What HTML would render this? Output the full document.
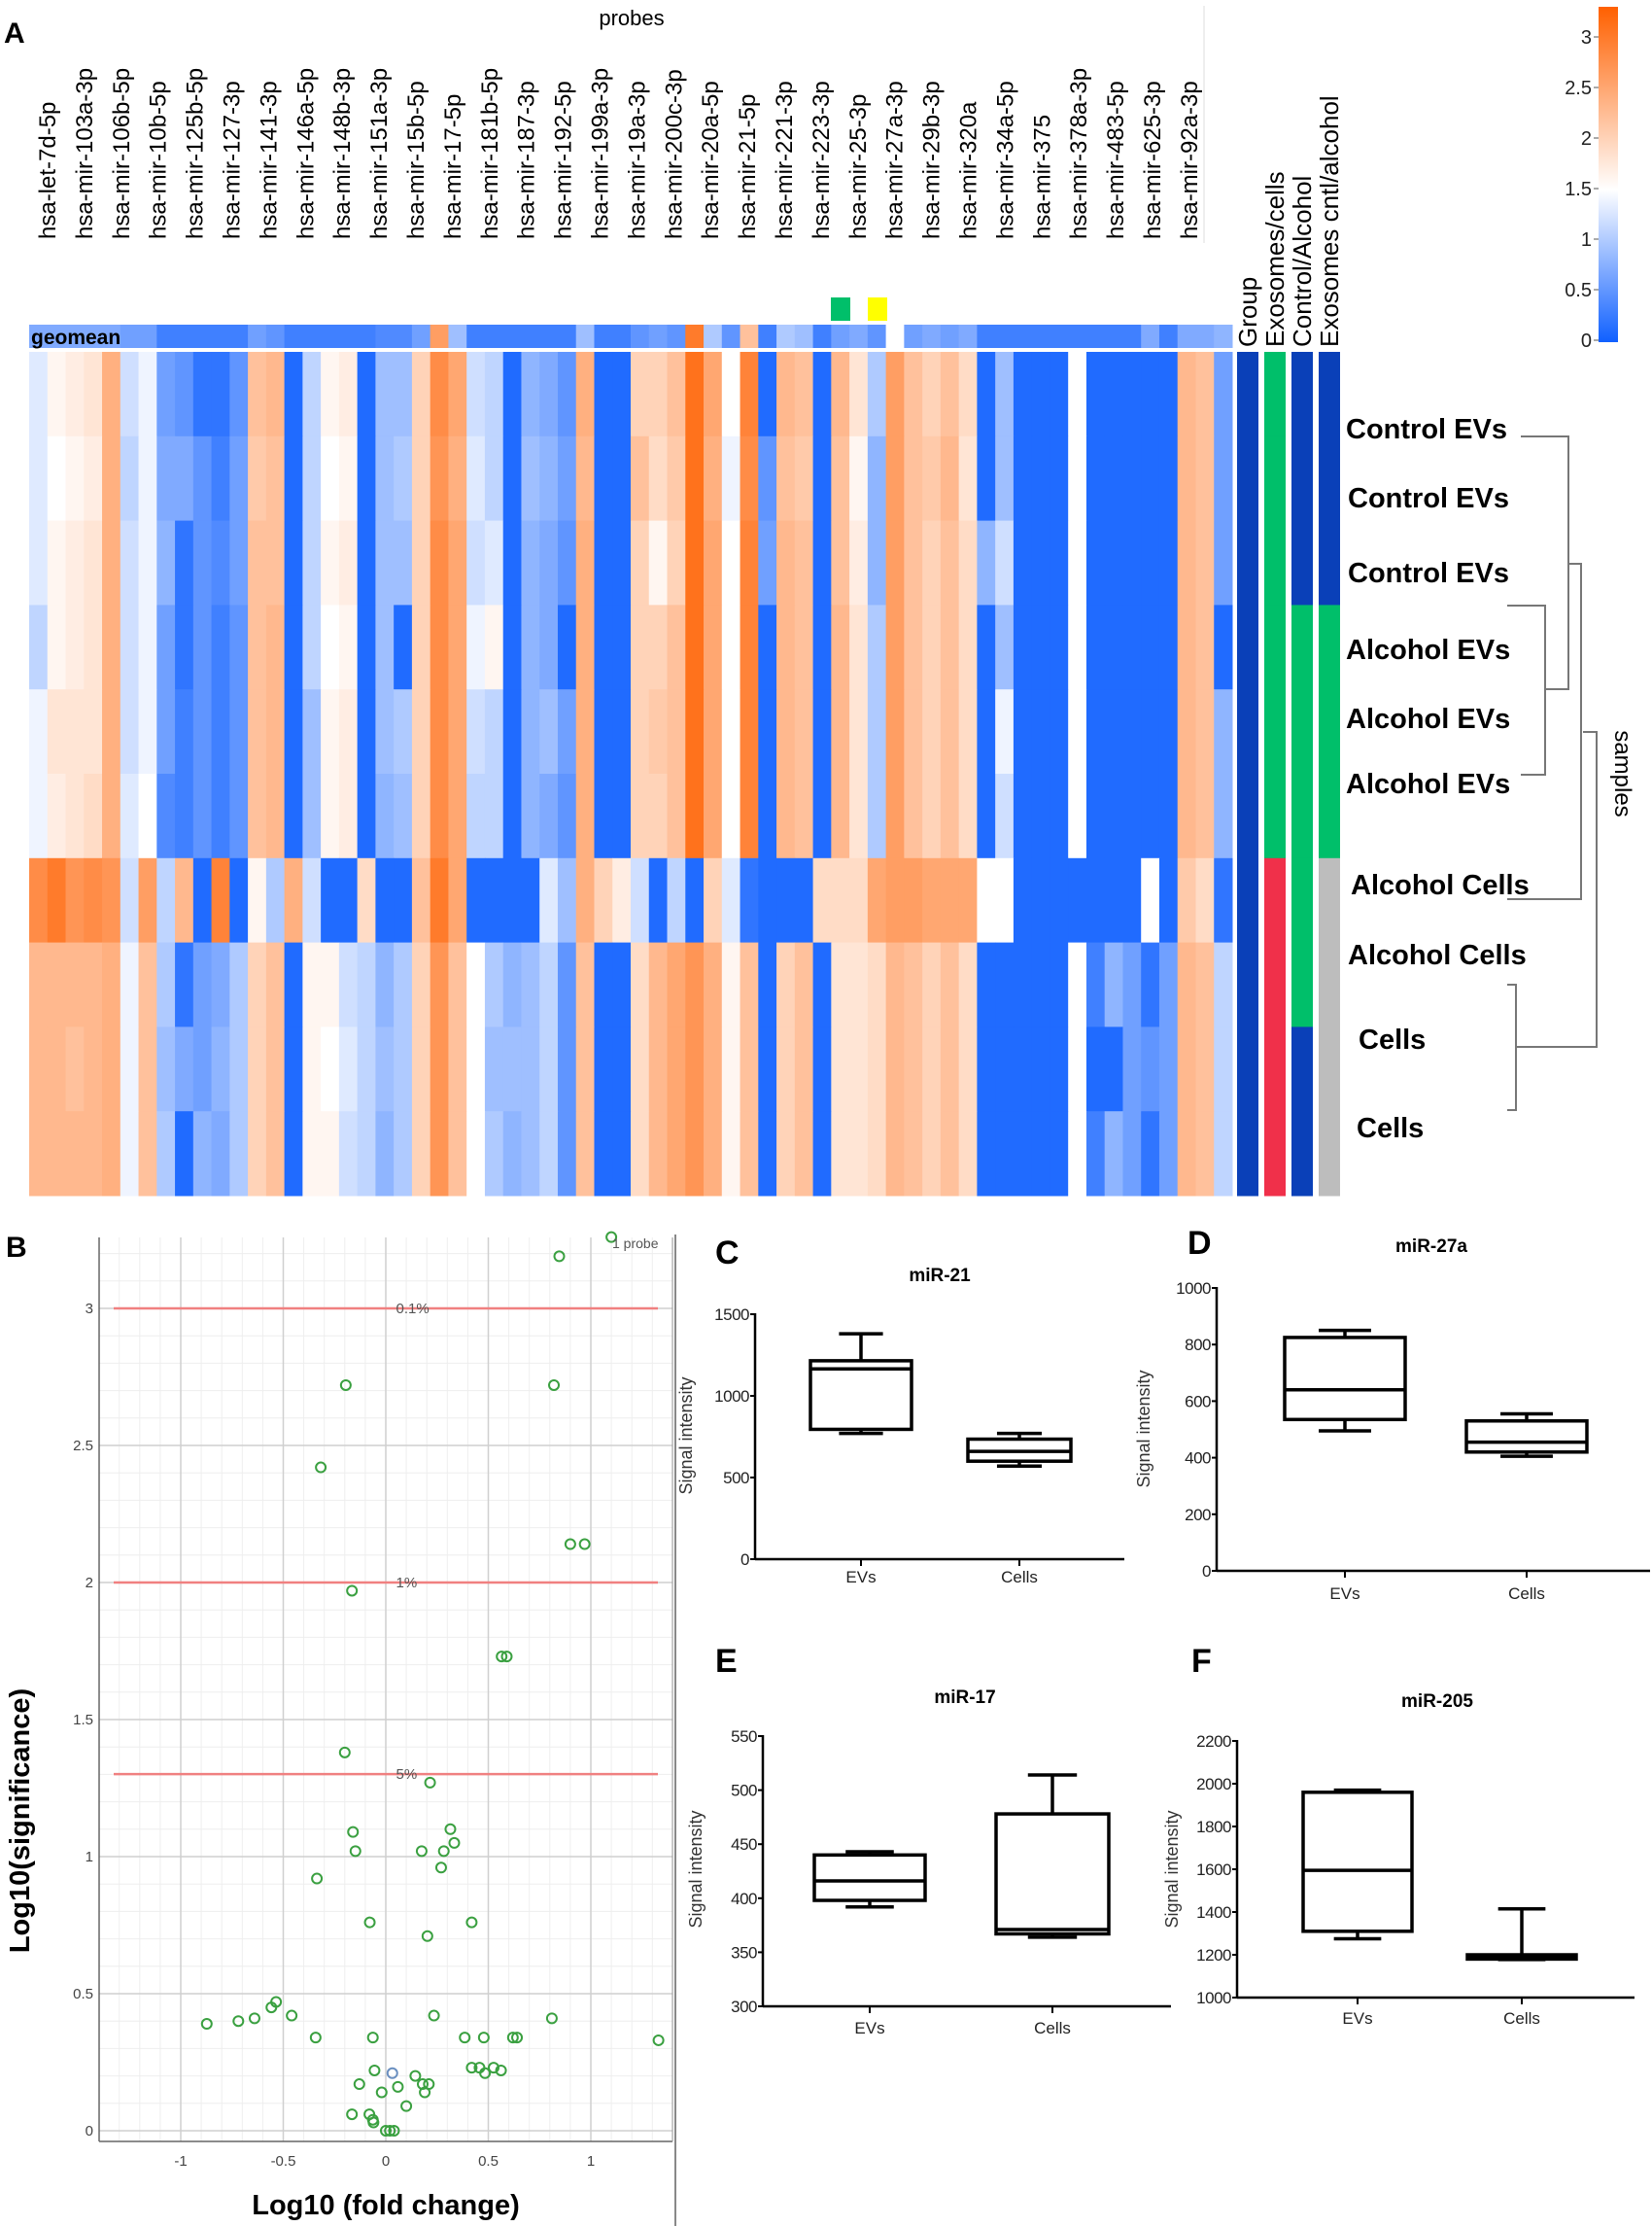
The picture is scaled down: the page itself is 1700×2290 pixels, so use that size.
<!DOCTYPE html>
<html><head><meta charset="utf-8"><title>miRNA figure</title>
<style>
html,body{margin:0;padding:0;background:#fff;}
svg{display:block;}
text{font-family:"Liberation Sans",sans-serif;}
</style></head>
<body>
<svg id="fig" width="1700" height="2290" viewBox="0 0 1700 2290" xmlns="http://www.w3.org/2000/svg">
<defs>
<linearGradient id="cbar" x1="0" y1="1" x2="0" y2="0">
<stop offset="0" stop-color="#1060ff"/><stop offset="0.4545" stop-color="#ffffff"/><stop offset="1" stop-color="#ff6000"/>
</linearGradient>
</defs>
<g id="panelA"></g>
<g id="panelB"></g>
<g id="panelBox"></g>
</svg>
<script>
// ===== Panel A data =====
const probeLabels = ["hsa-let-7d-5p","hsa-mir-103a-3p","hsa-mir-106b-5p","hsa-mir-10b-5p","hsa-mir-125b-5p","hsa-mir-127-3p","hsa-mir-141-3p","hsa-mir-146a-5p","hsa-mir-148b-3p","hsa-mir-151a-3p","hsa-mir-15b-5p","hsa-mir-17-5p","hsa-mir-181b-5p","hsa-mir-187-3p","hsa-mir-192-5p","hsa-mir-199a-3p","hsa-mir-19a-3p","hsa-mir-200c-3p","hsa-mir-20a-5p","hsa-mir-21-5p","hsa-mir-221-3p","hsa-mir-223-3p","hsa-mir-25-3p","hsa-mir-27a-3p","hsa-mir-29b-3p","hsa-mir-320a","hsa-mir-34a-5p","hsa-mir-375","hsa-mir-378a-3p","hsa-mir-483-5p","hsa-mir-625-3p","hsa-mir-92a-3p"];
const sampleLabels = ["Control EVs","Control EVs","Control EVs","Alcohol EVs","Alcohol EVs","Alcohol EVs","Alcohol Cells","Alcohol Cells","Cells","Cells"];
const geomean = [0.7,0.7,0.7,0.7,0.7,0.6,0.6,0.3,0.3,0.3,0.3,0.3,0.6,0.5,0.3,0.3,0.3,0.3,0.3,0.4,0.4,0.6,2.6,0.9,0.3,0.3,0.3,0.3,0.3,0.3,0.9,0.3,0.3,0.5,0.6,0.5,3.0,1.0,0.5,2.2,0.3,1.0,0.9,0.3,0.6,0.7,0.5,1.5,0.6,0.7,0.6,0.7,0.3,0.3,0.3,0.3,0.3,0.3,0.3,0.3,0.3,0.7,0.3,0.7,0.7,0.8];
const heatRows = [
[1.3,1.6,1.7,1.8,2.4,1.2,1.4,0.6,0.5,0.2,0.2,0.5,2.2,2.3,0.1,1.1,1.6,1.7,0.1,0.9,0.9,2.0,2.8,2.5,1.2,1.1,0.1,0.8,0.7,0.5,2.4,0.1,0.1,2.0,2.0,2.2,3.1,2.5,1.5,2.9,0.1,2.3,2.2,0.1,2.3,1.8,1.0,2.6,2.2,2.0,2.2,1.9,0.1,0.9,0.1,0.1,0.1,1.5,0.1,0.1,0.1,0.1,0.1,2.3,2.2,0.6],
[1.3,1.5,1.6,1.7,2.4,1.1,1.4,0.7,0.7,0.5,0.3,0.6,2.1,2.2,0.1,1.1,1.5,1.6,0.1,0.9,1.0,2.0,2.7,2.4,1.3,1.1,0.1,0.9,0.8,0.6,2.3,0.1,0.1,2.2,1.9,2.1,3.1,2.4,1.4,2.8,0.5,2.2,2.1,0.1,2.2,1.6,0.8,2.6,2.2,2.1,2.3,1.8,0.1,0.9,0.1,0.1,0.1,1.5,0.1,0.1,0.1,0.1,0.1,2.3,2.2,0.6],
[1.3,1.6,1.7,1.8,2.4,1.2,1.4,0.8,0.2,0.5,0.4,0.6,2.2,2.2,0.1,1.1,1.6,1.7,0.1,0.9,0.9,2.0,2.8,2.5,1.2,1.3,0.1,0.8,0.7,0.5,2.4,0.1,0.1,2.0,1.6,2.0,3.1,2.5,1.5,2.9,0.6,2.3,2.2,0.1,2.2,1.7,0.8,2.6,2.2,2.0,2.2,1.9,0.8,1.2,0.1,0.1,0.1,1.5,0.1,0.1,0.1,0.1,0.1,2.3,2.2,0.6],
[1.1,1.6,1.7,1.8,2.4,1.2,1.4,0.6,0.2,0.5,0.3,0.5,2.2,2.3,0.1,1.1,1.5,1.6,0.1,0.9,0.1,2.0,2.8,2.5,1.4,1.6,0.1,0.8,0.7,0.1,2.4,0.1,0.1,2.0,2.0,2.2,3.1,2.5,1.5,2.9,0.1,2.3,2.2,0.1,2.3,1.8,1.0,2.6,2.2,2.0,2.2,1.9,0.1,0.9,0.1,0.1,0.1,1.5,0.1,0.1,0.1,0.1,0.1,2.3,2.2,0.1],
[1.4,1.8,1.8,1.8,2.4,1.2,1.4,0.6,0.3,0.5,0.3,0.5,2.2,2.3,0.1,0.9,1.6,1.7,0.1,0.9,1.0,2.0,2.8,2.5,1.2,1.1,0.1,0.8,0.9,0.6,2.4,0.1,0.1,2.0,2.1,2.2,3.1,2.5,1.5,2.9,0.1,2.3,2.2,0.1,2.3,1.8,1.0,2.6,2.2,2.0,2.2,1.9,0.1,1.4,0.1,0.1,0.1,1.5,0.1,0.1,0.1,0.1,0.1,2.3,2.2,0.8],
[1.4,1.7,1.8,1.9,2.4,1.3,1.5,0.4,0.3,0.5,0.3,0.5,2.2,2.3,0.1,0.9,1.6,1.7,0.1,0.8,0.9,2.0,2.8,2.5,1.1,1.1,0.1,0.8,0.7,0.5,2.4,0.1,0.1,2.0,2.0,2.2,3.1,2.5,1.5,2.9,0.1,2.3,2.2,0.1,2.3,1.8,1.0,2.6,2.2,2.0,2.2,1.9,0.1,1.2,0.1,0.1,0.1,1.5,0.1,0.1,0.1,0.1,0.1,2.3,2.2,0.8],
[2.8,3.0,2.7,2.8,2.7,1.2,2.6,1.1,2.3,0.1,2.9,0.1,1.6,1.0,2.4,1.2,0.1,0.1,1.9,0.1,0.1,2.2,3.0,2.5,0.1,0.1,0.1,0.1,1.3,0.9,2.4,2.0,1.7,1.2,0.1,1.1,0.1,2.0,1.3,0.2,0.1,0.1,0.1,1.9,1.9,1.9,2.5,2.6,2.6,2.5,2.5,2.5,1.5,1.5,0.1,0.1,0.1,0.1,0.1,0.1,0.1,1.5,0.1,2.1,1.9,0.2],
[2.3,2.3,2.3,2.3,2.4,1.4,2.2,1.0,0.2,0.6,0.7,1.0,2.0,2.2,0.1,1.6,1.6,1.2,1.1,0.8,1.0,2.0,2.7,2.2,1.5,1.0,0.8,0.9,1.1,0.5,2.2,0.1,0.1,1.9,2.3,2.5,2.7,2.4,1.6,2.2,0.1,2.0,2.2,0.1,1.8,1.8,1.9,2.3,2.2,2.0,2.2,1.9,0.1,0.1,0.1,0.1,0.1,1.5,0.3,0.8,0.6,0.2,0.6,2.3,2.2,1.1],
[2.3,2.3,2.2,2.3,2.4,1.4,2.2,0.9,0.7,0.6,0.8,1.0,2.0,2.2,0.1,1.6,1.5,1.3,1.1,0.9,1.0,2.0,2.7,2.2,1.5,0.9,0.9,0.9,1.1,0.5,2.2,0.1,0.1,1.9,2.3,2.5,2.7,2.4,1.6,2.2,0.1,2.0,2.2,0.1,1.8,1.8,1.9,2.3,2.2,2.0,2.2,1.9,0.1,0.1,0.1,0.1,0.1,1.5,0.1,0.1,0.6,0.5,0.6,2.3,2.2,1.1],
[2.3,2.3,2.3,2.3,2.4,1.4,2.2,1.0,0.1,0.8,0.7,1.0,2.0,2.2,0.1,1.6,1.6,1.2,1.1,0.8,1.0,2.0,2.7,2.2,1.5,1.0,0.8,0.9,1.1,0.5,2.2,0.1,0.1,1.9,2.3,2.5,2.7,2.4,1.6,2.2,0.1,2.0,2.2,0.1,1.8,1.8,1.9,2.3,2.2,2.0,2.2,1.9,0.1,0.1,0.1,0.1,0.1,1.5,0.3,0.8,0.6,0.2,0.6,2.3,2.2,1.1]
];
const annotGroup = ["#0a40b8","#0a40b8","#0a40b8","#0a40b8","#0a40b8","#0a40b8","#0a40b8","#0a40b8","#0a40b8","#0a40b8"];
const annotExoCells = ["#00bf6a","#00bf6a","#00bf6a","#00bf6a","#00bf6a","#00bf6a","#f0304a","#f0304a","#f0304a","#f0304a"];
const annotCtlAlc = ["#0a40b8","#0a40b8","#0a40b8","#00bf6a","#00bf6a","#00bf6a","#00bf6a","#00bf6a","#0a40b8","#0a40b8"];
const annotExoCntl = ["#0a40b8","#0a40b8","#0a40b8","#00bf6a","#00bf6a","#00bf6a","#bdbdbd","#bdbdbd","#bdbdbd","#bdbdbd"];
const annotTitles = ["Group","Exosomes/cells","Control/Alcohol","Exosomes cntl/alcohol"];
const colorbarTicks = [0,0.5,1,1.5,2,2.5,3];

// ===== Panel B data =====
const fcX = [0.846,1.10,-0.195,0.82,-0.317,0.90,0.97,-0.165,0.565,0.59,-0.2,0.216,-0.16,0.315,0.334,-0.148,0.175,0.283,0.27,-0.336,-0.078,0.419,0.203,-0.873,-0.719,-0.64,-0.558,-0.535,-0.459,-0.342,-0.063,0.235,0.385,0.478,0.62,0.64,0.81,1.33,0.419,0.457,0.484,0.526,0.562,-0.055,0.032,-0.129,0.059,0.144,0.18,0.21,0.19,-0.02,0.1,-0.165,-0.08,-0.063,-0.06,0.0,0.02,0.04];
const sigY = [3.19,3.26,2.72,2.72,2.42,2.14,2.14,1.97,1.73,1.73,1.38,1.27,1.09,1.10,1.05,1.02,1.02,1.02,0.96,0.92,0.76,0.76,0.71,0.39,0.40,0.41,0.45,0.47,0.42,0.34,0.34,0.42,0.34,0.34,0.34,0.34,0.41,0.33,0.23,0.23,0.21,0.23,0.22,0.22,0.21,0.17,0.16,0.20,0.17,0.17,0.14,0.14,0.09,0.06,0.06,0.04,0.03,0.0,0.0,0.0];
const thresholdVals = [3,2,1.30103];
const thresholdLabels = ["0.1%","1%","5%"];
const volXTicks = [-1,-0.5,0,0.5,1];
const volYTicks = [0,0.5,1,1.5,2,2.5,3];

// ===== Box plot data =====
const boxCategories = ["EVs","Cells"];
const miR21 = [[770,795,1165,1215,1380],[570,600,660,735,770]];
const miR27a = [[495,535,640,825,850],[405,420,455,530,555]];
const miR17 = [[392,398,416,440,443],[364,367,371,478,514]];
const miR205 = [[1275,1310,1595,1960,1970],[1178,1180,1185,1200,1415]];
const ticks21 = [0,500,1000,1500];
const ticks27a = [0,200,400,600,800,1000];
const ticks17 = [300,350,400,450,500,550];
const ticks205 = [1000,1200,1400,1600,1800,2000,2200];

const NS = "http://www.w3.org/2000/svg";
function mk(parent, tag, attrs, txt){
  const e = document.createElementNS(NS, tag);
  for (const k in attrs) e.setAttribute(k, attrs[k]);
  if (txt !== undefined) e.textContent = txt;
  parent.appendChild(e);
  return e;
}
function heatColor(v){
  const t = Math.max(0, Math.min(3.3, v));
  let r,g,b;
  if (t < 1.5){ const f = t/1.5; r = 16 + (255-16)*f; g = 96 + (255-96)*f; b = 255; }
  else { const f = (t-1.5)/1.8; r = 255; g = 255 - (255-96)*f; b = 255 - 255*f; }
  return "rgb("+Math.round(r)+","+Math.round(g)+","+Math.round(b)+")";
}

// ===== Panel A drawing =====
(function(){
  const g = document.getElementById("panelA");
  const hx0 = 30, hx1 = 1268, hy0 = 362, hy1 = 1230;
  const nCol = heatRows[0].length, nRow = heatRows.length;
  const cw = (hx1-hx0)/nCol, rh = (hy1-hy0)/nRow;
  const colX = i => hx0 + i*cw;
  const rowY = j => hy0 + j*rh;

  let t = mk(g,"text",{x:4,y:44,"font-size":30,"font-weight":"bold"},"A");
  
  
  t = mk(g,"text",{x:650,y:26,"font-size":22,"text-anchor":"middle"},"probes");
  
  
  mk(g,"line",{x1:1239,y1:6,x2:1239,y2:250,stroke:"#ddd","stroke-width":1});

  probeLabels.forEach((lab,i)=>{
    const x = 48 + i*37.9 + 9;
    const el = mk(g,"text",{x:0,y:0,"font-size":24,transform:"translate("+x+",246) rotate(-90)"},lab);
    
    
  });

  geomean.forEach((v,i)=>{
    const r = mk(g,"rect",{x:colX(i),y:334,width:cw+0.5,height:24,fill:heatColor(v)});
    
    
  });
  t = mk(g,"text",{x:32,y:354,"font-size":21,"font-weight":"bold"},"geomean");
  
  
  let m = mk(g,"rect",{x:855,y:306,width:20,height:24,fill:"#00bf6a"});
  
  
  m = mk(g,"rect",{x:893,y:306,width:20,height:24,fill:"#ffff00"});
  
  

  heatRows.forEach((row,j)=>{
    row.forEach((v,i)=>{
      const r = mk(g,"rect",{x:colX(i),y:rowY(j),width:cw+0.5,height:rh+0.5,fill:heatColor(v)});
      
      
    });
  });

  const annCols = [annotGroup, annotExoCells, annotCtlAlc, annotExoCntl];
  const annX = [1273,1301,1329,1357];
  annCols.forEach((arr,k)=>{
    arr.forEach((c,j)=>{
      const r = mk(g,"rect",{x:annX[k],y:rowY(j),width:22,height:rh+0.5,fill:c});
      
      
    });
    const tt = mk(g,"text",{x:0,y:0,"font-size":26,transform:"translate("+(annX[k]+20)+",357) rotate(-90)"},annotTitles[k]);
    
    
  });

  const labY = [441,512,589,668,739,806,910,982,1069,1160];
  const labX = [1385,1387,1387,1385,1385,1385,1390,1387,1398,1396];
  sampleLabels.forEach((s,j)=>{
    const el = mk(g,"text",{x:labX[j],y:labY[j]+10,"font-size":29,"font-weight":"bold"},s);
    
    
  });

  const dg = mk(g,"g",{stroke:"#777","stroke-width":2,fill:"none"});
  
  
  const paths = [
    "M1565,449 H1614 V709 H1591",
    "M1551,623 H1590 V797 H1565",
    "M1614,580 H1627 V925 H1551",
    "M1551,1013 H1560 V1142 H1551",
    "M1629,753 H1643 V1077 H1560"
  ];
  paths.forEach(d=>mk(dg,"path",{d:d}));
  t = mk(g,"text",{x:0,y:0,"font-size":24,"text-anchor":"middle",transform:"translate(1662,796) rotate(90)"},"samples");
  
  

  const cb = mk(g,"rect",{x:1645,y:7,width:20,height:345,fill:"url(#cbar)"});
  
  
  const cbY = v => 350 - v*104;
  colorbarTicks.forEach(v=>{
    mk(g,"line",{x1:1640,x2:1645,y1:cbY(v),y2:cbY(v),stroke:"#555","stroke-width":1});
    const el = mk(g,"text",{x:1638,y:cbY(v)+7,"font-size":20,"text-anchor":"end",fill:"#222"},String(v));
    
    
  });
})();

// ===== Panel B drawing =====
(function(){
  const g = document.getElementById("panelB");
  const X = v => 397 + v*211;
  const Y = v => 2192 - v*282;
  const L = 102, R = 692, T = 1273, B = 2203;
  let t = mk(g,"text",{x:6,y:1293,"font-size":30,"font-weight":"bold"},"B");
  
  
  for (let v=-1.3; v<=1.41; v+=0.1){ mk(g,"line",{x1:X(v),x2:X(v),y1:T,y2:B,stroke:"#eeeeee","stroke-width":1}); }
  for (let v=0; v<=3.25; v+=0.1){ mk(g,"line",{x1:L,x2:R,y1:Y(v),y2:Y(v),stroke:"#eeeeee","stroke-width":1}); }
  volXTicks.forEach(v=>{
    mk(g,"line",{x1:X(v),x2:X(v),y1:T,y2:B,stroke:"#cfcfcf","stroke-width":1.5});
    const el = mk(g,"text",{x:X(v),y:2228,"font-size":15,"text-anchor":"middle",fill:"#444"},String(v));
    
    
  });
  volYTicks.forEach(v=>{
    mk(g,"line",{x1:L,x2:R,y1:Y(v),y2:Y(v),stroke:"#cfcfcf","stroke-width":1.5});
    const el = mk(g,"text",{x:L-6,y:Y(v)+5,"font-size":15,"text-anchor":"end",fill:"#444"},String(v));
    
    
  });
  mk(g,"line",{x1:L,x2:L,y1:T,y2:B,stroke:"#666","stroke-width":1.5});
  mk(g,"line",{x1:L,x2:R,y1:B,y2:B,stroke:"#666","stroke-width":1.5});
  mk(g,"line",{x1:R,x2:R,y1:T,y2:B,stroke:"#999","stroke-width":1});
  thresholdVals.forEach((v,i)=>{
    const ln = mk(g,"line",{x1:117,x2:677,y1:Y(v),y2:Y(v),stroke:"#f08080","stroke-width":2.5});
    
    
    const el = mk(g,"text",{x:X(0.05),y:Y(v)+5,"font-size":15,fill:"#555"},thresholdLabels[i]);
    
    
  });
  fcX.forEach((x,i)=>{
    const c = mk(g,"circle",{cx:X(x),cy:Y(sigY[i]),r:5,fill:"none",stroke:(i===44?"#6a8fc0":"#3aa040"),"stroke-width":2});
    
    
  });
  t = mk(g,"text",{x:630,y:1284,"font-size":14,fill:"#555"},"1 probe");
  
  
  t = mk(g,"text",{x:397,y:2278,"font-size":29,"font-weight":"bold","text-anchor":"middle"},"Log10 (fold change)");
  
  
  t = mk(g,"text",{x:0,y:0,"font-size":29,"font-weight":"bold","text-anchor":"middle",transform:"translate(30,1873) rotate(-90)"},"Log10(significance)");
  
  
})();

// ===== Box plots =====
(function(){
  const g = document.getElementById("panelBox");
  const div = mk(g,"line",{x1:695,x2:695,y1:1270,y2:2290,stroke:"#888","stroke-width":2});
  
  
  const panels = [
    {letter:"C",lx:736,ly:1300,title:"miR-21",tx:967,ty:1318,ax:777,axEnd:1157,v0:0,v1:1500,y0:1604,y1:1352,ticks:ticks21,data:miR21,cx:[886,1049],hw:[52,53],ylx:712,yly:1477,catY:1628},
    {letter:"D",lx:1222,ly:1290,title:"miR-27a",tx:1473,ty:1288,ax:1252,axEnd:1698,v0:0,v1:1000,y0:1616,y1:1325,ticks:ticks27a,data:miR27a,cx:[1384,1571],hw:[62,62],ylx:1183,yly:1470,catY:1645},
    {letter:"E",lx:736,ly:1720,title:"miR-17",tx:993,ty:1752,ax:785,axEnd:1205,v0:300,v1:550,y0:2064,y1:1786,ticks:ticks17,data:miR17,cx:[895,1083],hw:[57,58],ylx:722,yly:1923,catY:2092},
    {letter:"F",lx:1226,ly:1720,title:"miR-205",tx:1479,ty:1756,ax:1273,axEnd:1682,v0:1000,v1:2200,y0:2055,y1:1791,ticks:ticks205,data:miR205,cx:[1397,1566],hw:[56,56],ylx:1212,yly:1923,catY:2082}
  ];
  panels.forEach(p=>{
    const Y = v => p.y0 + (v - p.v0)*(p.y1 - p.y0)/(p.v1 - p.v0);
    let t = mk(g,"text",{x:p.lx,y:p.ly,"font-size":34,"font-weight":"bold"},p.letter);
    
    
    t = mk(g,"text",{x:p.tx,y:p.ty,"font-size":19,"font-weight":"bold","text-anchor":"middle"},p.title);
    
    
    mk(g,"line",{x1:p.ax,x2:p.ax,y1:Y(p.v1)-1,y2:p.y0+1,stroke:"#000","stroke-width":2.5});
    mk(g,"line",{x1:p.ax,x2:p.axEnd,y1:p.y0,y2:p.y0,stroke:"#000","stroke-width":2.5});
    p.ticks.forEach(v=>{
      mk(g,"line",{x1:p.ax-5,x2:p.ax,y1:Y(v),y2:Y(v),stroke:"#000","stroke-width":2});
      const el = mk(g,"text",{x:p.ax-6,y:Y(v)+6,"font-size":17,"text-anchor":"end",fill:"#222",style:"letter-spacing:-0.5px"},String(v));
      
      
    });
    t = mk(g,"text",{x:0,y:0,"font-size":18,"text-anchor":"middle",fill:"#333",transform:"translate("+p.ylx+","+p.yly+") rotate(-90)"},"Signal intensity");
    
    
    boxCategories.forEach((c,i)=>{
      const cx = p.cx[i], hw = p.hw[i], d = p.data[i];
      mk(g,"line",{x1:cx,x2:cx,y1:p.y0,y2:p.y0+7,stroke:"#000","stroke-width":2});
      const lab = mk(g,"text",{x:cx,y:p.catY,"font-size":17,"text-anchor":"middle",fill:"#222"},c);
      
      
      const bx = mk(g,"g",{stroke:"#000","stroke-width":3.5,fill:"none"});
      
      
      mk(bx,"line",{x1:cx,x2:cx,y1:Y(d[0]),y2:Y(d[1])});
      mk(bx,"line",{x1:cx,x2:cx,y1:Y(d[3]),y2:Y(d[4])});
      mk(bx,"line",{x1:cx-hw/2.3,x2:cx+hw/2.3,y1:Y(d[0]),y2:Y(d[0])});
      mk(bx,"line",{x1:cx-hw/2.3,x2:cx+hw/2.3,y1:Y(d[4]),y2:Y(d[4])});
      mk(bx,"rect",{x:cx-hw,y:Y(d[3]),width:hw*2,height:Math.max(1,Y(d[1])-Y(d[3]))});
      mk(bx,"line",{x1:cx-hw,x2:cx+hw,y1:Y(d[2]),y2:Y(d[2])});
    });
  });
})();
</script>
</body></html>
